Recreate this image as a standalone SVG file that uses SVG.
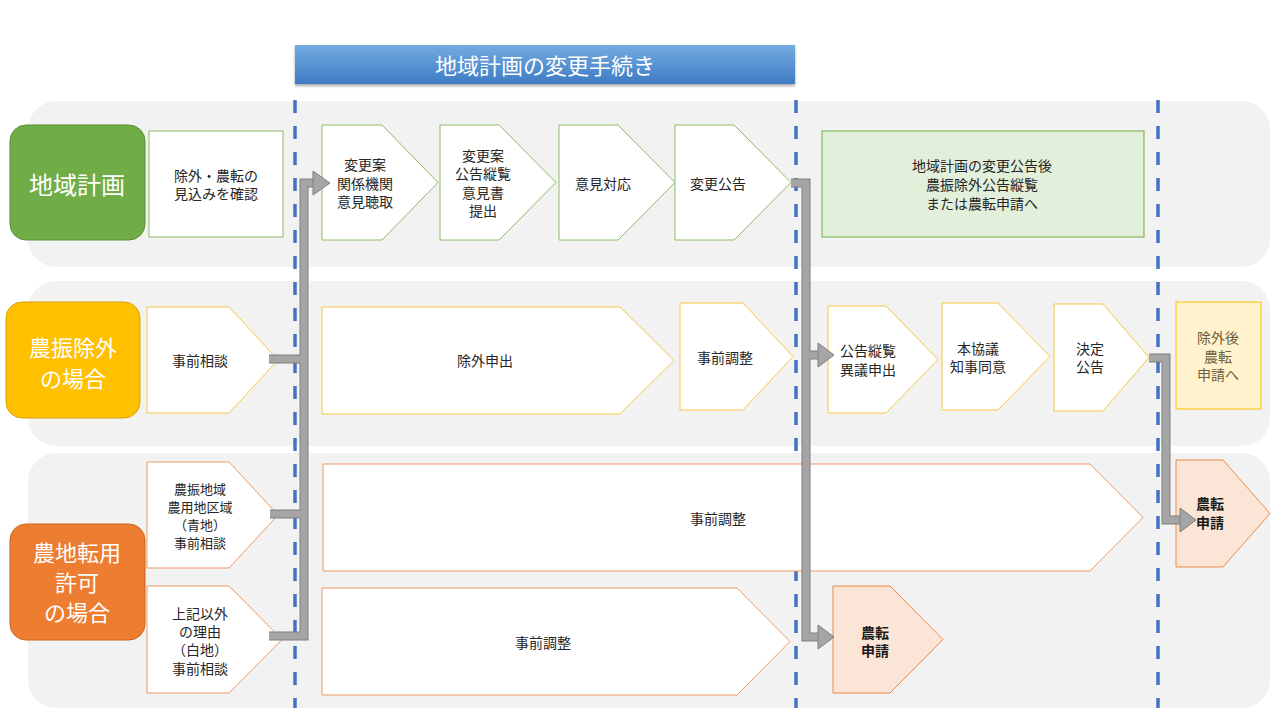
<svg xmlns="http://www.w3.org/2000/svg" width="1280" height="720" viewBox="0 0 1280 720">
<defs>
<linearGradient id="tg" x1="0" y1="0" x2="0" y2="1">
<stop offset="0" stop-color="#74abe0"/>
<stop offset="1" stop-color="#3d7bc4"/>
</linearGradient>
<filter id="sh" x="-5%" y="-20%" width="110%" height="160%">
<feDropShadow dx="0" dy="2" stdDeviation="1.5" flood-color="#000" flood-opacity="0.35"/>
</filter>
</defs>
<style>
text{font-family:"Noto Sans CJK JP","Noto Sans CJK SC",sans-serif;text-anchor:middle;dominant-baseline:central}
.t{font-size:14px;fill:#262626}
.ts{font-size:13px;fill:#262626}
.b{font-size:14px;fill:#1a1a1a;font-weight:bold}
.h{font-size:22px;fill:#ffffff}
.lane{fill:#f2f2f2}
.g{fill:#ffffff;stroke:#8cbc63;stroke-width:1}
.y{fill:#ffffff;stroke:#f5c842;stroke-width:1}
.o{fill:#ffffff;stroke:#f09a5f;stroke-width:1}
.of{fill:#fbe5d6;stroke:#ef8a48;stroke-width:1}
.dash{stroke:#4472c4;stroke-width:3.5;stroke-dasharray:13 13;fill:none}
.co{fill:none;stroke:#7f7f7f;stroke-width:9}
.ci{fill:none;stroke:#a5a5a5;stroke-width:7}
.ah{fill:#a5a5a5;stroke:#7f7f7f;stroke-width:1}
</style>
<rect width="1280" height="720" fill="#ffffff"/>
<g id="lanes">
<rect class="lane" x="28" y="101" width="1242" height="166" rx="28"/>
<rect class="lane" x="28" y="281" width="1242" height="165" rx="28"/>
<rect class="lane" x="28" y="453" width="1242" height="255" rx="28"/>
</g>
<g id="title">
<rect x="295" y="45" width="500" height="39" fill="url(#tg)" filter="url(#sh)"/>
<text x="545" y="64" style="font-size:22px;fill:#ffffff">地域計画の変更手続き</text>
</g>
<g id="dividers">
<line class="dash" x1="295" y1="100" x2="295" y2="708"/>
<line class="dash" x1="796" y1="100" x2="796" y2="708"/>
<line class="dash" x1="1158" y1="100" x2="1158" y2="708"/>
</g>
<g id="h1"><rect x="10" y="125" width="135" height="115" rx="16" fill="#70ad47" stroke="#5a8f38" stroke-width="1"/><text class="h" x="77" y="183" style="font-size:24px">地域計画</text></g>
<g id="h2"><rect x="6" y="302" width="134" height="116" rx="16" fill="#ffc000" stroke="#d9a300" stroke-width="1"/><text class="h" x="73" y="346">農振除外</text><text class="h" x="73" y="377">の場合</text></g>
<g id="h3"><rect x="10" y="524" width="135" height="116" rx="16" fill="#ed7d31" stroke="#c9651f" stroke-width="1"/><text class="h" x="77" y="551">農地転用</text><text class="h" x="77" y="581">許可</text><text class="h" x="77" y="611">の場合</text></g>

<g id="n1"><rect class="g" x="149" y="131" width="134" height="106"/><text class="t" x="216" y="175">除外・農転の</text><text class="t" x="216" y="193">見込みを確認</text></g>
<g id="n2"><polygon class="g" points="322,125 382,125 438,182.5 382,240 322,240"/><text class="t" x="365" y="164">変更案</text><text class="t" x="365" y="183">関係機関</text><text class="t" x="365" y="201">意見聴取</text></g>
<g id="n3"><polygon class="g" points="440,125 499,125 556,182.5 499,240 440,240"/><text class="t" x="483" y="155">変更案</text><text class="t" x="483" y="173">公告縦覧</text><text class="t" x="483" y="192">意見書</text><text class="t" x="483" y="210">提出</text></g>
<g id="n4"><polygon class="g" points="559,125 618,125 675,182.5 618,240 559,240"/><text class="t" x="603" y="183">意見対応</text></g>
<g id="n5"><polygon class="g" points="675,125 734,125 791,182.5 734,240 675,240"/><text class="t" x="718" y="183">変更公告</text></g>
<g id="n6"><rect x="822" y="131" width="322" height="106" fill="#e2efda" stroke="#70ad47" stroke-width="1"/><text class="t" x="982" y="165">地域計画の変更公告後</text><text class="t" x="982" y="184">農振除外公告縦覧</text><text class="t" x="982" y="203">または農転申請へ</text></g>

<g id="n7"><polygon class="y" points="147,307 229,307 278,360 229,413 147,413"/><text class="t" x="200" y="360">事前相談</text></g>
<g id="n8"><polygon class="y" points="322,307 620,307 674,360.5 620,414 322,414"/><text class="t" x="485" y="360">除外申出</text></g>
<g id="n9"><polygon class="y" points="680,303 743,303 793,356.5 743,410 680,410"/><text class="t" x="725" y="357">事前調整</text></g>
<g id="n10"><polygon class="y" points="828,306 886,306 938,359.5 886,413 828,413"/><text class="t" x="868" y="350">公告縦覧</text><text class="t" x="868" y="369">異議申出</text></g>
<g id="n11"><polygon class="y" points="942,303 998,303 1050,356.5 998,410 942,410"/><text class="t" x="978" y="348">本協議</text><text class="t" x="978" y="366">知事同意</text></g>
<g id="n12"><polygon class="y" points="1054,304 1103,304 1149,357.5 1103,411 1054,411"/><text class="t" x="1090" y="348">決定</text><text class="t" x="1090" y="366">公告</text></g>
<g id="n13"><rect x="1176" y="302" width="85" height="107" fill="#fff2cc" stroke="#ffc000" stroke-width="1"/><text class="t" x="1218" y="337" style="fill:#6e6040">除外後</text><text class="t" x="1218" y="356" style="fill:#6e6040">農転</text><text class="t" x="1218" y="374" style="fill:#6e6040">申請へ</text></g>

<g id="n14"><polygon class="o" points="147,462 229,462 278,515 229,568 147,568"/><text class="ts" x="200" y="488">農振地域</text><text class="ts" x="200" y="506">農用地区域</text><text class="ts" x="200" y="524">（青地）</text><text class="ts" x="200" y="542">事前相談</text></g>
<g id="n15"><polygon class="o" points="147,586 229,586 282,639.5 229,693 147,693"/><text class="t" x="200" y="613">上記以外</text><text class="t" x="200" y="631">の理由</text><text class="t" x="200" y="649">（白地）</text><text class="t" x="200" y="668">事前相談</text></g>
<g id="n16"><polygon class="o" points="323,464 1090,464 1143,517.5 1090,571 323,571"/><text class="t" x="718" y="518">事前調整</text></g>
<g id="n17"><polygon class="o" points="322,588 737,588 790,641.5 737,695 322,695"/><text class="t" x="543" y="642">事前調整</text></g>
<g id="n18"><polygon class="of" points="833,586 890,586 943,639.5 890,693 833,693"/><text class="b" x="875" y="632">農転</text><text class="b" x="875" y="650">申請</text></g>
<g id="n19"><polygon class="of" points="1176,460 1223,460 1270,513.5 1223,567 1176,567"/><text class="b" x="1210" y="503">農転</text><text class="b" x="1210" y="522">申請</text></g>

<g id="connectors">
<path class="co" d="M269 359H304M270 514H304M269 636H304V183H316"/>
<path class="co" d="M791 183H806V637H820M806 355H820"/>
<path class="co" d="M1149 358H1166V520H1182"/>
<path class="ci" d="M269 359H304M270 514H304M269 636H304V183H316"/>
<path class="ci" d="M791 183H806V637H820M806 355H820"/>
<path class="ci" d="M1149 358H1166V520H1182"/>
<polygon class="ah" points="313,171 330,183 313,195"/>
<polygon class="ah" points="818,343 834,355 818,367"/>
<polygon class="ah" points="818,625 834,637 818,649"/>
<polygon class="ah" points="1180,508 1196,520 1180,532"/>
</g>
</svg>
